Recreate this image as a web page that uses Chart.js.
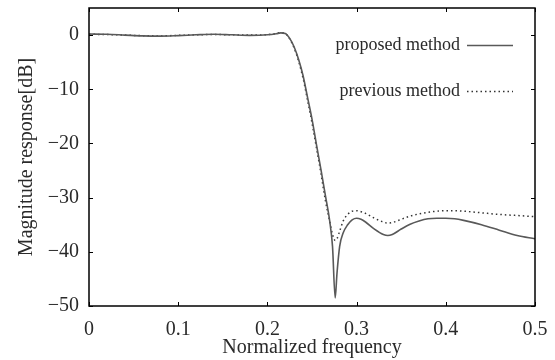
<!DOCTYPE html>
<html>
<head>
    <title>Magnitude response</title>
    <script src="https://cdn.jsdelivr.net/npm/chart.js@4/dist/chart.umd.min.js"></script>
    <style>
        html, body { margin: 0; padding: 0; background: #fff; }
        .chart-container { position: relative; width: 555px; height: 360px; }
    </style>
</head>
<body>
    <div class="chart-container">
        <canvas id="magChart" width="555" height="360"></canvas>
    </div>
    <script>
        const freqs = [0,0.02,0.04,0.06,0.08,0.1,0.12,0.14,0.16,0.18,0.2,0.21,0.215,0.22,0.225,0.23,0.235,0.24,0.245,0.25,0.255,0.26,0.265,0.27,0.273,0.276,0.278,0.281,0.285,0.29,0.295,0.3,0.305,0.31,0.32,0.33,0.335,0.34,0.35,0.36,0.37,0.38,0.39,0.4,0.41,0.42,0.44,0.46,0.48,0.5];
        const proposed = [0.2,0.15,0,-0.15,-0.2,-0.1,0.05,0.15,0.05,-0.05,0.05,0.25,0.4,0.3,-0.6,-2.2,-4.5,-7.5,-11.5,-15.5,-20.2,-24.8,-29.6,-34.5,-39,-48.5,-44,-39,-36.5,-35,-34.1,-33.8,-34,-34.5,-35.8,-36.8,-37,-36.8,-35.8,-34.9,-34.3,-33.9,-33.8,-33.8,-33.9,-34.2,-35,-36,-37,-37.6];
        const previous = [0.15,0.1,0,-0.1,-0.15,-0.05,0.05,0.1,0.05,0,0.1,0.3,0.45,0.3,-0.7,-2.4,-4.8,-8,-12,-16.2,-20.8,-25.5,-30.5,-34.5,-36.8,-37.9,-37.6,-36.2,-34.3,-33.1,-32.5,-32.4,-32.6,-32.9,-33.8,-34.5,-34.7,-34.6,-34,-33.4,-33,-32.7,-32.5,-32.4,-32.4,-32.5,-32.8,-33.1,-33.3,-33.5];
        const xTicks = [0, 0.1, 0.2, 0.3, 0.4, 0.5];
        const yTicks = [-50, -40, -30, -20, -10, 0];
        const seriesLabels = ['proposed method', 'previous method'];

        const FONT = '"Liberation Serif", "DejaVu Serif", serif';
        const TEXT = '#2a2a2a';
        const toXY = arr => freqs.map((f, i) => ({ x: f, y: arr[i] }));

        // frame + inward ticks on all four sides, plus the in-plot legend
        const framePlugin = {
            id: 'frame',
            afterDraw(chart) {
                const { ctx, chartArea: a, scales } = chart;
                ctx.save();
                ctx.strokeStyle = '#000';
                ctx.lineWidth = 1.5;
                ctx.strokeRect(a.left, a.top, a.right - a.left, a.bottom - a.top);
                ctx.lineWidth = 1;
                ctx.beginPath();
                xTicks.forEach(v => {
                    const px = Math.round(scales.x.getPixelForValue(v)) + 0.5;
                    ctx.moveTo(px, a.bottom); ctx.lineTo(px, a.bottom - 4);
                    ctx.moveTo(px, a.top); ctx.lineTo(px, a.top + 4);
                });
                yTicks.forEach(v => {
                    const py = Math.round(scales.y.getPixelForValue(v)) + 0.5;
                    ctx.moveTo(a.left, py); ctx.lineTo(a.left + 4, py);
                    ctx.moveTo(a.right, py); ctx.lineTo(a.right - 4, py);
                });
                ctx.stroke();

                // legend
                ctx.font = '18px ' + FONT;
                ctx.fillStyle = TEXT;
                ctx.textAlign = 'right';
                ctx.textBaseline = 'middle';
                const ds = chart.data.datasets;
                [45, 91].forEach((y, i) => {
                    ctx.fillText(seriesLabels[i], 460, y);
                    ctx.strokeStyle = ds[i].borderColor;
                    ctx.lineWidth = ds[i].borderWidth;
                    ctx.setLineDash(ds[i].borderDash || []);
                    ctx.beginPath();
                    ctx.moveTo(467, y + 0.5); ctx.lineTo(513, y + 0.5);
                    ctx.stroke();
                });
                ctx.restore();
            }
        };

        new Chart(document.getElementById('magChart'), {
            type: 'line',
            data: {
                datasets: [{
                    label: seriesLabels[0],
                    data: toXY(proposed),
                    borderColor: '#595959',
                    borderWidth: 1.6,
                    pointRadius: 0,
                    cubicInterpolationMode: 'monotone'
                }, {
                    label: seriesLabels[1],
                    data: toXY(previous),
                    borderColor: '#333',
                    borderWidth: 1.5,
                    borderDash: [1.5, 3],
                    pointRadius: 0,
                    cubicInterpolationMode: 'monotone'
                }]
            },
            options: {
                responsive: false,
                animation: false,
                layout: { padding: { top: 8, right: 20, left: 0, bottom: 0 } },
                plugins: { legend: { display: false }, tooltip: { enabled: false } },
                scales: {
                    x: {
                        type: 'linear',
                        min: 0, max: 0.5,
                        afterBuildTicks: s => { s.ticks = xTicks.map(v => ({ value: v })); },
                        afterFit: s => { s.height = 54; s.paddingLeft = 0; s.paddingRight = 0; },
                        grid: { display: false },
                        border: { display: false },
                        ticks: {
                            color: TEXT,
                            padding: 4,
                            maxRotation: 0,
                            font: { family: FONT, size: 20 },
                            callback: v => String(v)
                        },
                        title: {
                            display: true,
                            text: 'Normalized frequency',
                            color: TEXT,
                            padding: 0,
                            font: { family: FONT, size: 20 }
                        }
                    },
                    y: {
                        type: 'linear',
                        min: -50, max: 5,
                        afterBuildTicks: s => { s.ticks = yTicks.map(v => ({ value: v })); },
                        afterFit: s => { s.width = 89; s.paddingTop = 0; s.paddingBottom = 0; },
                        grid: { display: false },
                        border: { display: false },
                        ticks: {
                            color: TEXT,
                            padding: 2,
                            font: { family: FONT, size: 20 },
                            callback: v => v < 0 ? '\u2212' + Math.abs(v) : String(v)
                        },
                        title: {
                            display: true,
                            text: 'Magnitude response[dB]',
                            color: TEXT,
                            padding: { top: 15, bottom: 0 },
                            font: { family: FONT, size: 20 }
                        }
                    }
                }
            },
            plugins: [framePlugin]
        });
    </script>
</body>
</html>
